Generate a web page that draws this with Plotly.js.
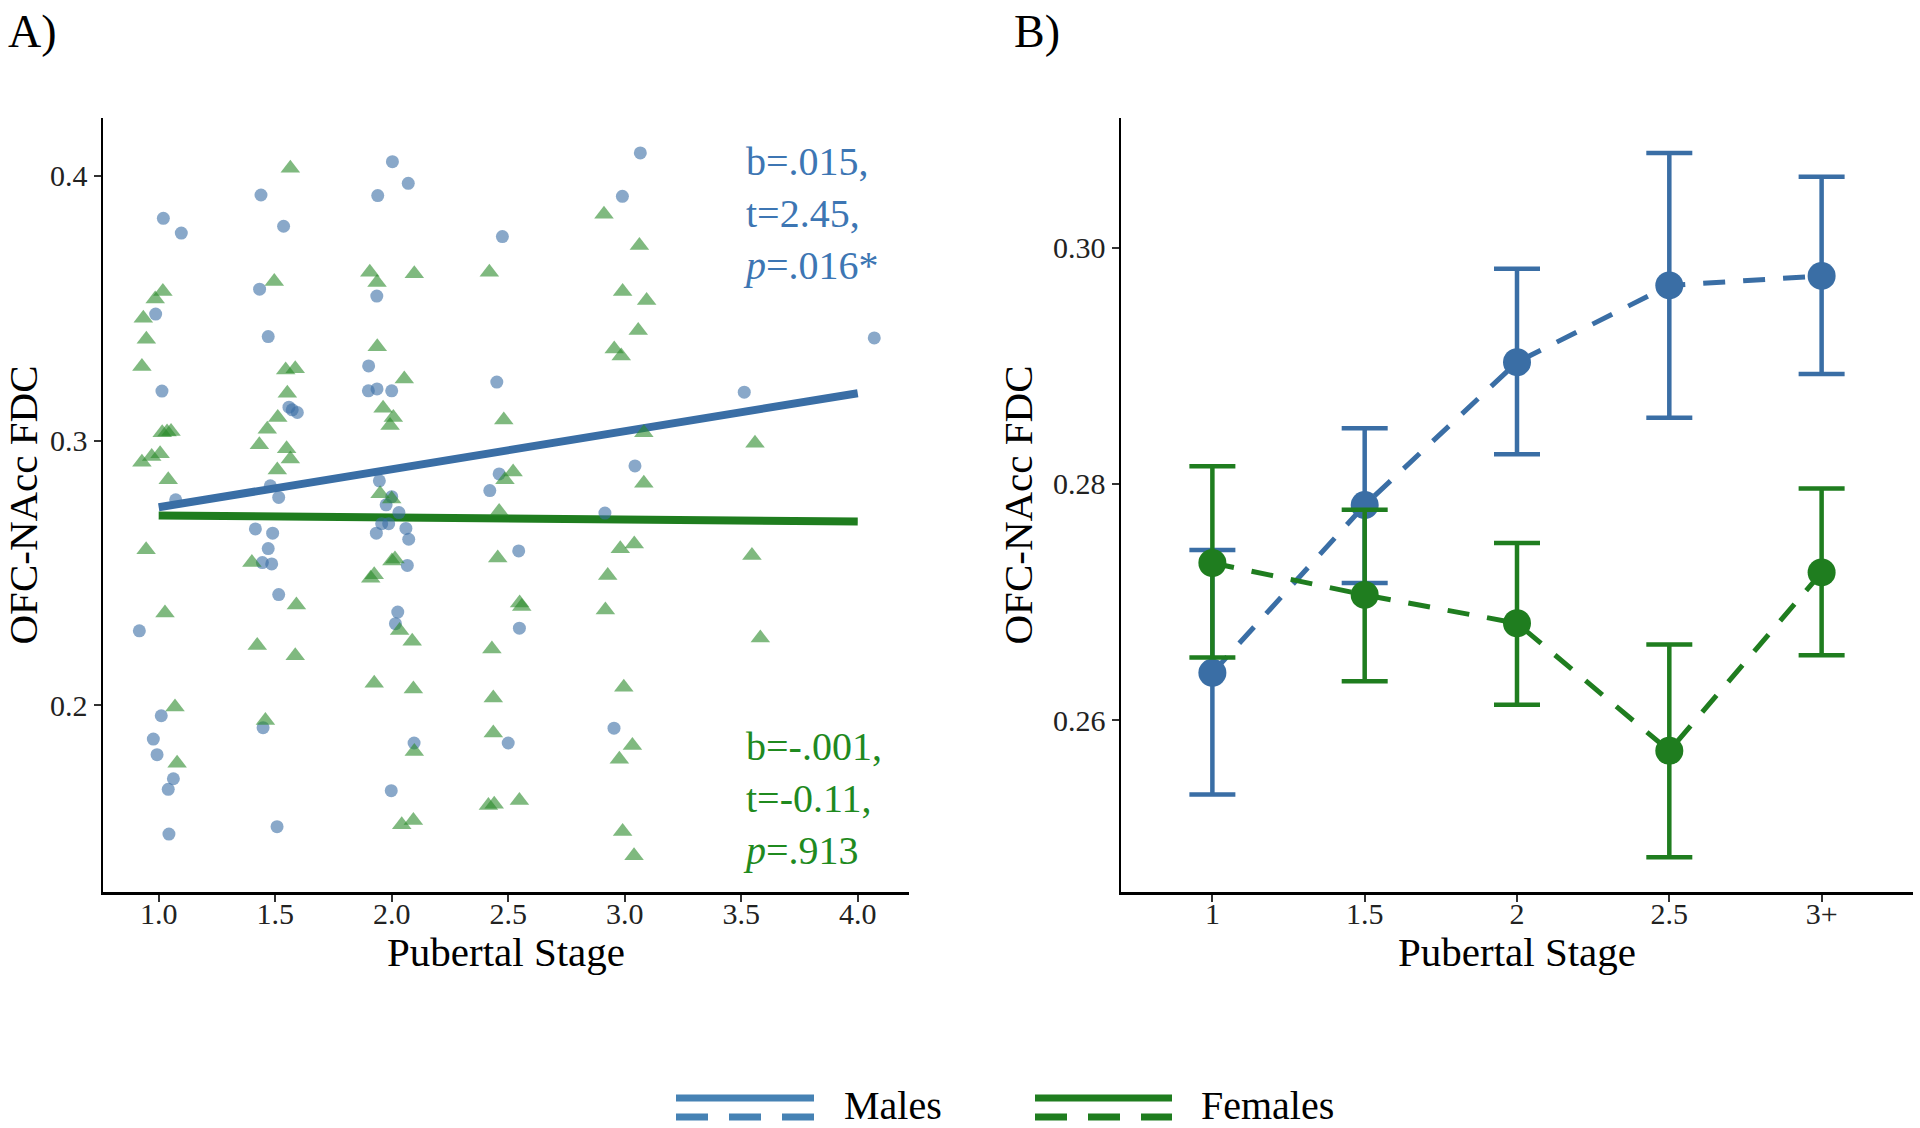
<!DOCTYPE html>
<html>
<head>
<meta charset="utf-8">
<script src="https://cdn.plot.ly/plotly-3.0.1.min.js"></script>
<style>
	html, body { margin: 0; padding: 0; background: #ffffff; }
	#grafico { width: 1920px; height: 1128px; }
</style>
</head>
<body>
<div id="grafico"></div>
<script>
// Panel A: raw points (pubertal stage, jittered) and FDC values
const maleStage = [
	2.003, 2.071, 1.439, 1.94, 1.02, 1.536, 1.097, 2.475, 1.433, 1.936,
	0.987, 1.47, 1.901, 1.014, 1.9, 1.937, 2.0, 2.451, 1.559, 1.573,
	1.595, 1.947, 1.479, 1.515, 2.461, 2.421, 2.0, 1.976, 2.031, 1.073,
	3.067, 2.99, 4.071, 3.513, 3.044, 2.915, 1.415, 1.489, 1.47, 1.445,
	1.485, 1.515, 1.957, 1.987, 1.934, 2.061, 2.073, 2.067, 2.026, 2.016,
	0.917, 2.545, 2.548, 1.011, 0.977, 0.993, 1.063, 1.041, 1.044, 1.448,
	1.508, 2.096, 1.998, 2.5, 2.954,
];
const maleFdc = [
	0.4054, 0.3972, 0.3928, 0.3926, 0.384, 0.381, 0.3784, 0.3771, 0.3572, 0.3546,
	0.3478, 0.3393, 0.3282, 0.3187, 0.3188, 0.3195, 0.3188, 0.3221, 0.3126, 0.3116,
	0.3106, 0.2848, 0.2829, 0.2785, 0.2874, 0.2811, 0.2788, 0.2757, 0.2728, 0.2776,
	0.4087, 0.3923, 0.3388, 0.3183, 0.2904, 0.2726, 0.2666, 0.265, 0.2592, 0.2539,
	0.2534, 0.2418, 0.2686, 0.2686, 0.265, 0.2668, 0.2627, 0.2528, 0.2352, 0.2308,
	0.2281, 0.2583, 0.2291, 0.196, 0.1872, 0.1813, 0.1722, 0.1682, 0.1513, 0.1915,
	0.1541, 0.1857, 0.1677, 0.1857, 0.1913,
];
const femaleStage = [
	1.565, 1.906, 1.937, 2.097, 2.419, 1.496, 1.018, 0.985, 0.934, 0.947,
	1.938, 0.928, 1.545, 1.586, 2.054, 1.552, 1.511, 1.963, 2.007, 1.993,
	2.481, 1.015, 1.036, 1.053, 1.466, 1.432, 1.549, 1.565, 1.006, 0.97,
	0.928, 1.509, 1.041, 2.521, 2.486, 1.95, 2.0, 2.461, 2.911, 3.063,
	2.991, 3.094, 3.058, 2.955, 2.985, 3.082, 3.559, 3.082, 0.946, 1.4,
	2.001, 2.014, 1.91, 1.925, 2.455, 2.549, 2.558, 1.027, 1.591, 2.034,
	2.088, 1.423, 1.586, 2.43, 1.925, 2.093, 2.436, 1.07, 1.458, 2.436,
	1.079, 2.097, 2.415, 2.44, 2.548, 2.043, 2.093, 2.981, 3.041, 3.546,
	2.927, 2.917, 3.582, 2.996, 3.033, 2.977, 2.991, 3.04,
];
const femaleFdc = [
	0.4029, 0.3636, 0.3597, 0.363, 0.3636, 0.3601, 0.3563, 0.3535, 0.3462, 0.3383,
	0.3355, 0.328, 0.3267, 0.3271, 0.3233, 0.3179, 0.3087, 0.3122, 0.3087, 0.3057,
	0.3078, 0.303, 0.3032, 0.3034, 0.3043, 0.2984, 0.2969, 0.293, 0.295, 0.294,
	0.2918, 0.2889, 0.2852, 0.2881, 0.2852, 0.2799, 0.2779, 0.2732, 0.3855, 0.3737,
	0.3563, 0.3529, 0.3416, 0.3346, 0.332, 0.303, 0.299, 0.2839, 0.2587, 0.2539,
	0.2545, 0.2552, 0.248, 0.2493, 0.2556, 0.2386, 0.2373, 0.2348, 0.2379, 0.2282,
	0.2242, 0.2226, 0.2187, 0.2212, 0.2083, 0.2061, 0.2027, 0.1993, 0.1942, 0.1895,
	0.1781, 0.1825, 0.1621, 0.1626, 0.164, 0.1548, 0.1564, 0.2591, 0.2609, 0.2566,
	0.249, 0.236, 0.2254, 0.2068, 0.1848, 0.1796, 0.1523, 0.1431,
];

// Regression lines (ends at stage 1 and 4)
const fitStage = [1.0, 4.0];
const maleFit = [0.2748, 0.3179];
const femaleFit = [0.2717, 0.2694];

// Panel B: means by stage with error bars
const stageLabels = ["1", "1.5", "2", "2.5", "3+"];
const maleMean = [0.264, 0.2782, 0.2903, 0.2968, 0.2976];
const maleLow = [0.2537, 0.2716, 0.2825, 0.2856, 0.2893];
const maleHigh = [0.2744, 0.2847, 0.2982, 0.308, 0.306];
const femaleMean = [0.2733, 0.2706, 0.2682, 0.2574, 0.2725];
const femaleLow = [0.2653, 0.2633, 0.2613, 0.2484, 0.2655];
const femaleHigh = [0.2815, 0.2778, 0.275, 0.2664, 0.2796];

const azul = "#3a6ea5";
const verde = "#1f7d1f";
const fuente = "Liberation Serif, Times New Roman, serif";

// convierte pixeles de la pagina a coordenadas paper
function px(x) {
	return x / 1920;
}
function py(y) {
	return 1 - y / 1128;
}

function barras(media, bajo, alto) {
	return {
		type: "data",
		symmetric: false,
		array: media.map((m, i) => alto[i] - m),
		arrayminus: media.map((m, i) => m - bajo[i]),
		thickness: 4.5,
		width: 23,
	};
}

function crearTrazas() {
	let trazas = [];
	// Panel A
	trazas.push({
		x: fitStage, y: maleFit, mode: "lines", xaxis: "x", yaxis: "y",
		line: { color: azul, width: 8 }, showlegend: false, hoverinfo: "skip",
	});
	trazas.push({
		x: fitStage, y: femaleFit, mode: "lines", xaxis: "x", yaxis: "y",
		line: { color: verde, width: 8 }, showlegend: false, hoverinfo: "skip",
	});
	trazas.push({
		x: maleStage, y: maleFdc, mode: "markers", xaxis: "x", yaxis: "y",
		marker: { symbol: "circle", size: 13, color: azul, opacity: 0.6, line: { width: 0 } },
		showlegend: false,
	});
	trazas.push({
		x: femaleStage, y: femaleFdc, mode: "markers", xaxis: "x", yaxis: "y",
		marker: { symbol: "triangle-up", size: 17, color: "#2a8a2a", opacity: 0.6, line: { width: 0 } },
		showlegend: false,
	});
	// Panel B
	trazas.push({
		x: stageLabels, y: maleMean, mode: "lines+markers", xaxis: "x2", yaxis: "y2",
		line: { color: azul, width: 5, dash: "22px,18px" },
		marker: { size: 28, color: azul },
		error_y: Object.assign(barras(maleMean, maleLow, maleHigh), { color: azul }),
		showlegend: false,
	});
	trazas.push({
		x: stageLabels, y: femaleMean, mode: "lines+markers", xaxis: "x2", yaxis: "y2",
		line: { color: verde, width: 5, dash: "22px,18px" },
		marker: { size: 28, color: verde },
		error_y: Object.assign(barras(femaleMean, femaleLow, femaleHigh), { color: verde }),
		showlegend: false,
	});
	return trazas;
}

function ejeComun() {
	return {
		showline: true,
		linecolor: "#000000",
		linewidth: 2.5,
		ticks: "outside",
		ticklen: 7,
		tickwidth: 2,
		tickcolor: "#333333",
		showgrid: false,
		zeroline: false,
		tickfont: { family: fuente, size: 30, color: "#222222" },
	};
}

function crearLayout() {
	const dominioY = [py(892), py(118)];
	let layout = {
		width: 1920,
		height: 1128,
		margin: { l: 0, r: 0, t: 0, b: 0 },
		paper_bgcolor: "#ffffff",
		plot_bgcolor: "#ffffff",
		font: { family: fuente, color: "#000000" },
		showlegend: false,
		xaxis: Object.assign(ejeComun(), {
			domain: [px(103), px(909)],
			range: [0.761, 4.22],
			tick0: 1,
			dtick: 0.5,
			tickformat: ".1f",
			ticklabelstandoff: -14,
			anchor: "y",
			title: { text: "Pubertal Stage", font: { family: fuente, size: 41 }, standoff: 6 },
		}),
		yaxis: Object.assign(ejeComun(), {
			domain: dominioY,
			range: [0.1294, 0.4219],
			tick0: 0,
			dtick: 0.1,
			tickformat: ".1f",
			anchor: "x",
			title: { text: "OFC-NAcc FDC", font: { family: fuente, size: 41 }, standoff: 8 },
		}),
		xaxis2: Object.assign(ejeComun(), {
			domain: [px(1121), px(1913)],
			type: "category",
			categoryorder: "array",
			categoryarray: stageLabels,
			range: [-0.6, 4.6],
			ticklabelstandoff: -14,
			anchor: "y2",
			title: { text: "Pubertal Stage", font: { family: fuente, size: 41 }, standoff: 6 },
		}),
		yaxis2: Object.assign(ejeComun(), {
			domain: dominioY,
			range: [0.24545, 0.31097],
			tick0: 0,
			dtick: 0.02,
			tickformat: ".2f",
			anchor: "x2",
			title: { text: "OFC-NAcc FDC", font: { family: fuente, size: 41 }, standoff: 8 },
		}),
		annotations: [],
		shapes: [],
	};

	// etiquetas de panel
	layout.annotations.push({
		xref: "paper", yref: "paper", x: px(6), y: py(4), xanchor: "left", yanchor: "top",
		text: "A)", showarrow: false, font: { family: fuente, size: 46, color: "#000000" },
	});
	layout.annotations.push({
		xref: "paper", yref: "paper", x: px(1012), y: py(4), xanchor: "left", yanchor: "top",
		text: "B)", showarrow: false, font: { family: fuente, size: 46, color: "#000000" },
	});

	// estadisticos de las rectas
	layout.annotations.push({
		xref: "x", yref: "y", x: 3.5, y: 0.4148, xanchor: "left", yanchor: "top", align: "left",
		text: "b=.015,<br>t=2.45,<br><i>p</i>=.016*", showarrow: false,
		font: { family: fuente, size: 40, color: "#3d76b3" },
	});
	layout.annotations.push({
		xref: "x", yref: "y", x: 3.5, y: 0.1935, xanchor: "left", yanchor: "top", align: "left",
		text: "b=-.001,<br>t=-0.11,<br><i>p</i>=.913", showarrow: false,
		font: { family: fuente, size: 40, color: "#1f8a1f" },
	});

	// leyenda dibujada a mano (linea continua + discontinua)
	const claves = [
		{ nombre: "Males", color: "#4682b4", x0: 676, x1: 814, tx: 842 },
		{ nombre: "Females", color: verde, x0: 1035, x1: 1172, tx: 1199 },
	];
	claves.forEach((c) => {
		layout.shapes.push({
			type: "line", xref: "paper", yref: "paper",
			x0: px(c.x0), x1: px(c.x1), y0: py(1098), y1: py(1098),
			line: { color: c.color, width: 7 },
		});
		layout.shapes.push({
			type: "line", xref: "paper", yref: "paper",
			x0: px(c.x0), x1: px(c.x1), y0: py(1117), y1: py(1117),
			line: { color: c.color, width: 7, dash: "32px,21px" },
		});
		layout.annotations.push({
			xref: "paper", yref: "paper", x: px(c.tx), y: py(1105), xanchor: "left", yanchor: "middle",
			text: c.nombre, showarrow: false, font: { family: fuente, size: 40, color: "#000000" },
		});
	});
	return layout;
}

document.addEventListener("DOMContentLoaded", () => {
	Plotly.newPlot("grafico", crearTrazas(), crearLayout(), { staticPlot: true });
});
</script>
</body>
</html>
